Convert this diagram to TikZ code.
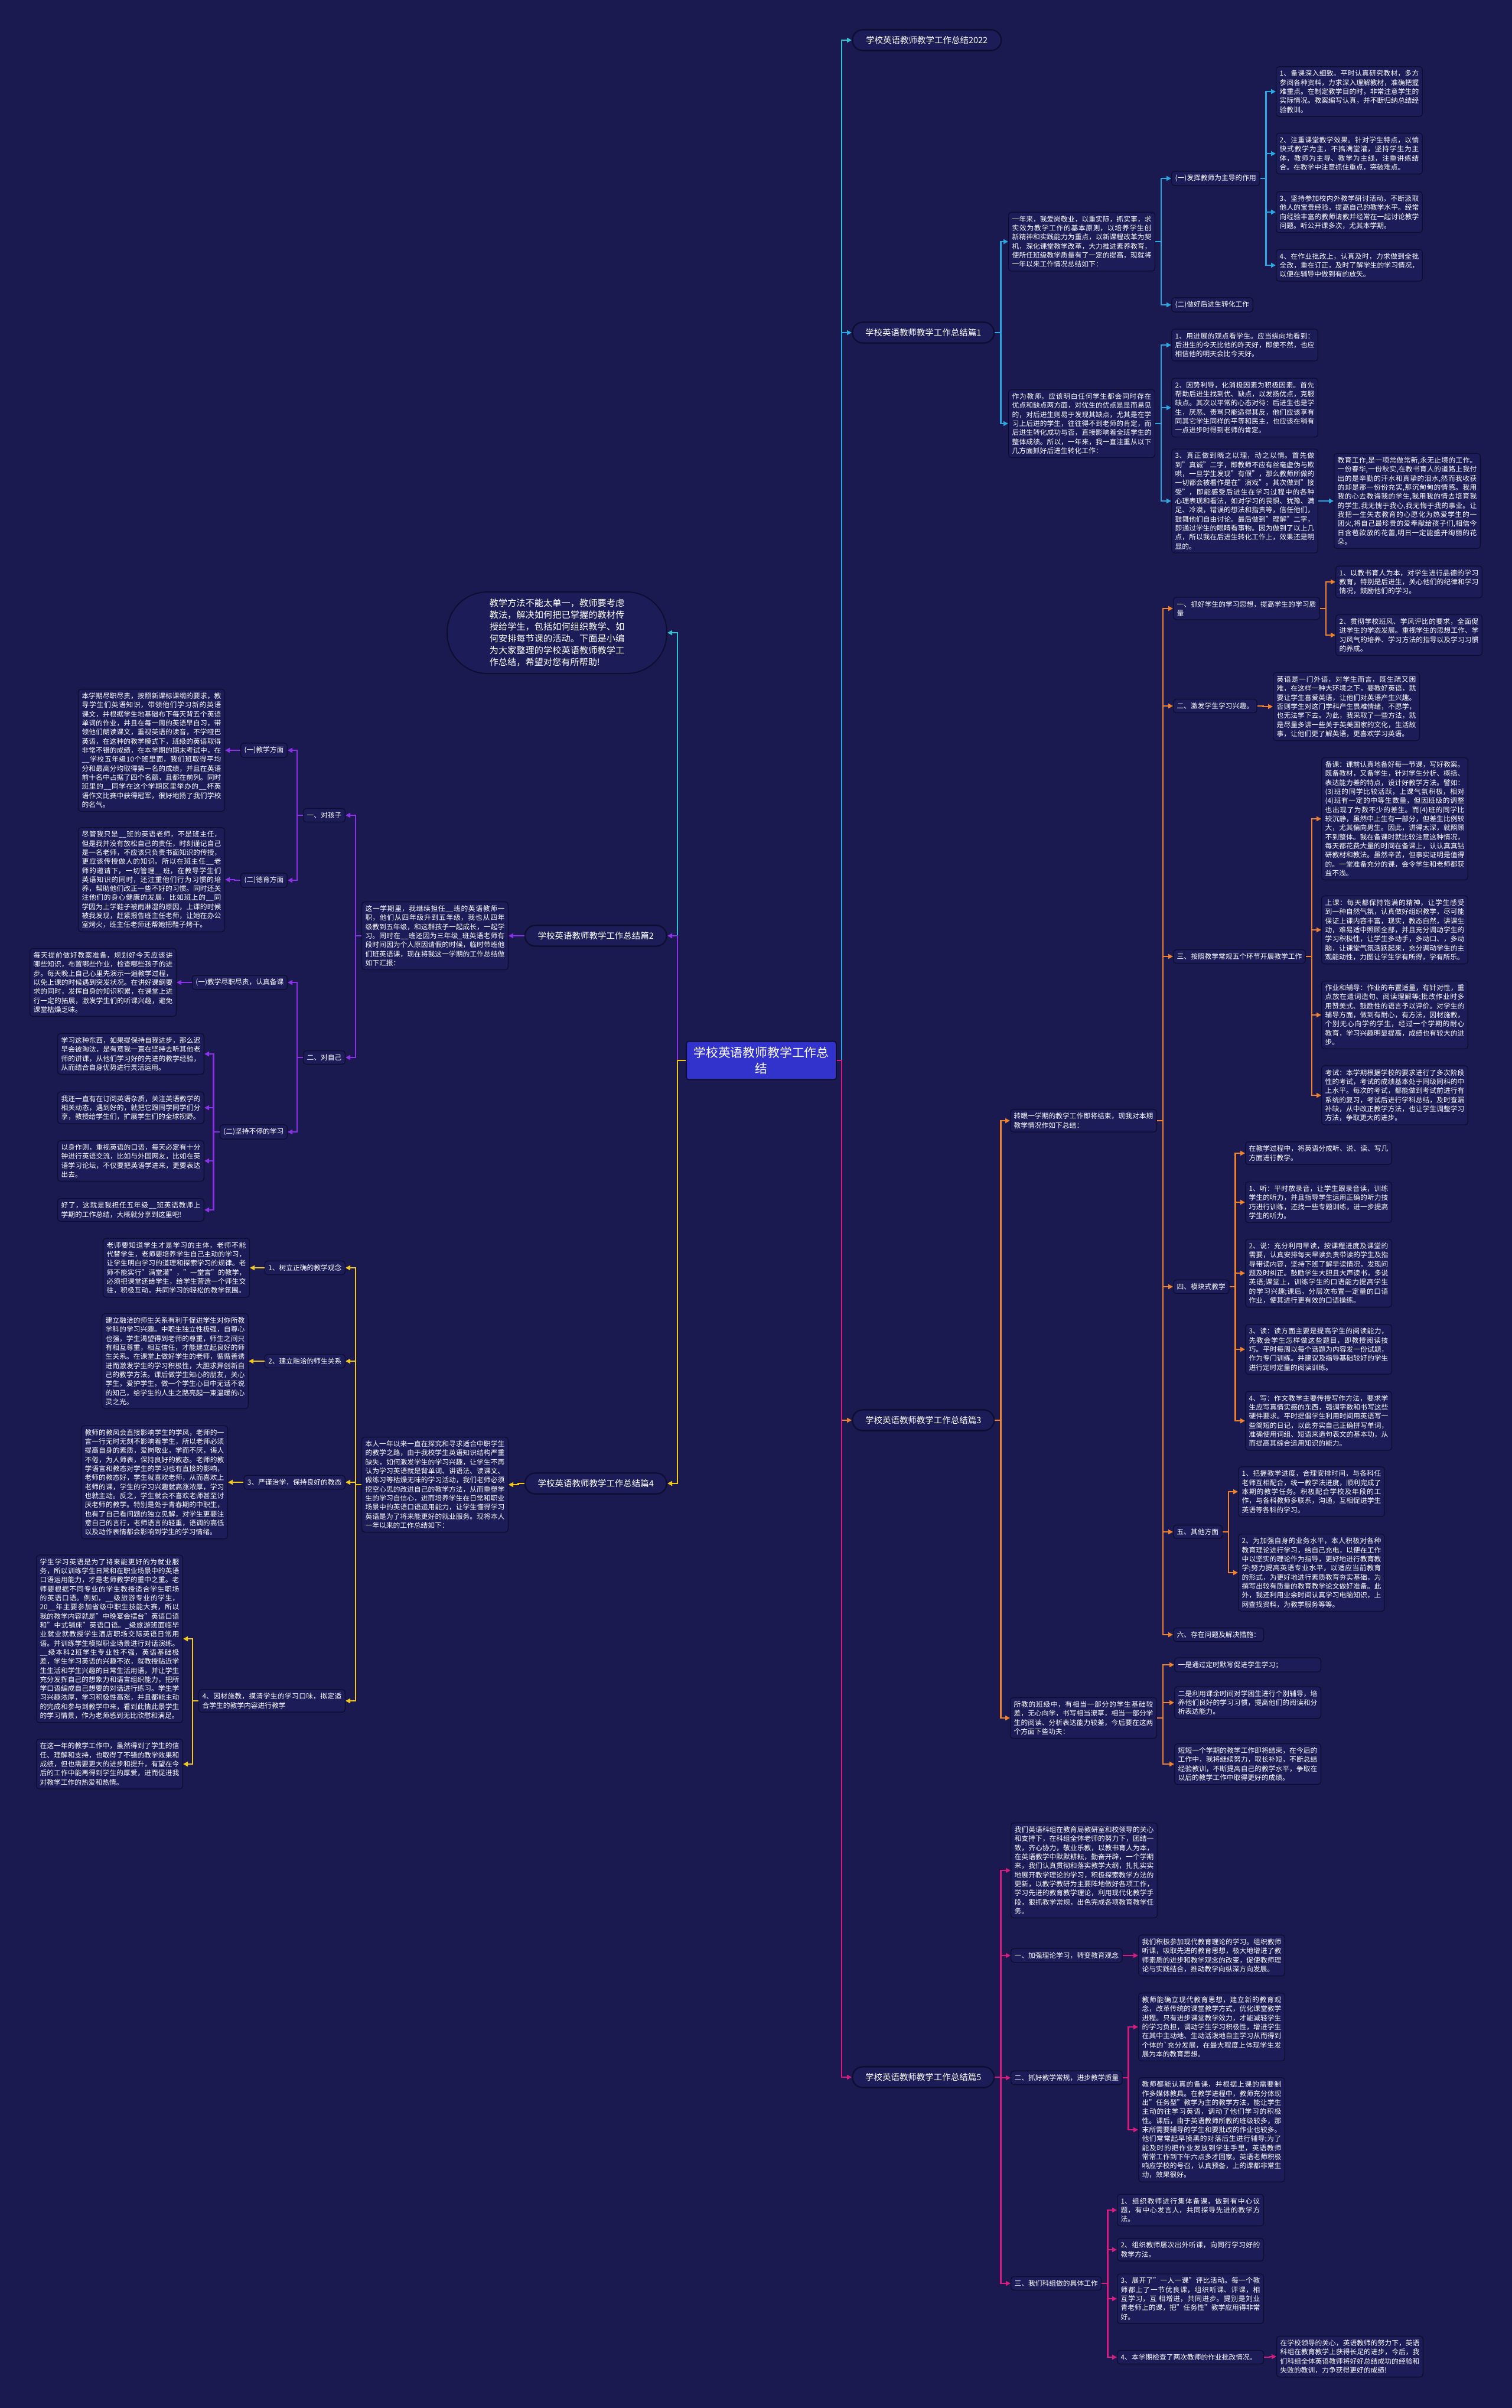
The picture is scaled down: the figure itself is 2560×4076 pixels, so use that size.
\documentclass[tikz,border=0pt]{standalone}
\usepackage{fontspec}
\setmainfont{Noto Sans CJK SC}
\usetikzlibrary{arrows.meta}
\XeTeXlinebreaklocale "zh"
\XeTeXlinebreakskip=0pt plus 1pt
\setlength{\parindent}{0pt}
\definecolor{bgnavy}{HTML}{1A1A50}
\definecolor{boxfill}{HTML}{1C1C58}
\definecolor{boxline}{HTML}{0E0E33}
\definecolor{rootblue}{HTML}{3232CC}
\definecolor{cteal}{HTML}{33C3D0}
\definecolor{csky}{HTML}{2AA7E1}
\definecolor{cpurple}{HTML}{8B32E6}
\definecolor{corange}{HTML}{F0822D}
\definecolor{cyellow}{HTML}{F2C81A}
\definecolor{cmagenta}{HTML}{D81B7E}
\newcommand{\leaffont}{\fontsize{8.36pt}{10.9pt}\selectfont}
\newcommand{\titlefont}{\fontsize{10.3pt}{13pt}\selectfont}
\newcommand{\rootfont}{\fontsize{14.8pt}{19pt}\selectfont}
\newcommand{\introfont}{\fontsize{10.8pt}{14.2pt}\selectfont}

\begin{document}
\begin{tikzpicture}[
    x=0.25mm, y=-0.25mm,
    >={Triangle[length=2mm,width=2mm]},
    box/.style   = {rectangle, rounded corners=1.2mm, draw=boxline, fill=boxfill,
                    line width=0.35mm, text=white, font=\leaffont,
                    inner xsep=1.5mm, inner ysep=1.5mm},
    leaf/.style  = {box, text width=167.6pt, align=justify},
    tag/.style   = {box},
    title/.style = {rectangle, rounded corners=4.4mm, draw=boxline, fill=boxfill,
                    line width=0.6mm, text=white, font=\titlefont,
                    minimum width=60mm, minimum height=8.8mm},
    topic/.style = {rectangle, rounded corners=1mm, draw=boxline, fill=rootblue,
                    line width=0.5mm, text=white, font=\rootfont, align=center,
                    minimum width=63.5mm, minimum height=16.2mm},
    intro/.style = {rectangle, rounded corners=17mm, draw=boxline, fill=boxfill,
                    line width=0.5mm, text=white, font=\introfont, align=justify,
                    text width=162.5pt, minimum width=93mm, minimum height=34.5mm},
    lnk/.style   = {->, line width=0.65mm},
  ]
  \useasboundingbox (0,0) rectangle (2560,4076);
  \fill[bgnavy] (0,0) rectangle (2560,4076);

  % centre
  \node[topic] (root) at (1289,1795) {学校英语教师教学工作总\\结};

  % ---- right side
  \node[title, anchor=west, minimum width=63mm] (t22) at (1442,68) {学校英语教师教学工作总结2022};

  % part 1
  \node[title, anchor=west] (t1) at (1442,563) {学校英语教师教学工作总结篇1};
  \node[leaf, anchor=west] (p1a) at (1707,409) {一年来，我爱岗敬业，以重实际，抓实事，求实效为教学工作的基本原则，以培养学生创新精神和实践能力为重点，以新课程改革为契机，深化课堂教学改革，大力推进素养教育，使所任班级教学质量有了一定的提高，现就将一年以来工作情况总结如下：};
  \node[tag, anchor=west] (p1a1) at (1983,302) {(一)发挥教师为主导的作用};
  \node[tag, anchor=west] (p1a2) at (1983,516) {(二)做好后进生转化工作};
  \node[leaf, anchor=west] (p1a1a) at (2160,155) {1、备课深入细致。平时认真研究教材，多方参阅各种资料，力求深入理解教材，准确把握难重点。在制定教学目的时，非常注意学生的实际情况。教案编写认真，并不断归纳总结经验教训。};
  \node[leaf, anchor=west] (p1a1b) at (2160,260) {2、注重课堂教学效果。针对学生特点，以愉快式教学为主，不搞满堂灌，坚持学生为主体，教师为主导、教学为主线，注重讲练结合。在教学中注意抓住重点，突破难点。};
  \node[leaf, anchor=west] (p1a1c) at (2160,359) {3、坚持参加校内外教学研讨活动，不断汲取他人的宝贵经验，提高自己的教学水平。经常向经验丰富的教师请教并经常在一起讨论教学问题。听公开课多次，尤其本学期。};
  \node[leaf, anchor=west] (p1a1d) at (2160,449) {4、在作业批改上，认真及时，力求做到全批全改，重在订正，及时了解学生的学习情况，以便在辅导中做到有的放矢。};
  \node[leaf, anchor=west] (p1b) at (1707,717) {作为教师，应该明白任何学生都会同时存在优点和缺点两方面，对优生的优点是显而易见的，对后进生则易于发现其缺点，尤其是在学习上后进的学生，往往得不到老师的肯定，而后进生转化成功与否，直接影响着全班学生的整体成绩。所以，一年来，我一直注重从以下几方面抓好后进生转化工作：};
  \node[leaf, anchor=west] (p1b1) at (1983,584) {1、用进展的观点看学生。应当纵向地看到：后进生的今天比他的昨天好，即使不然，也应相信他的明天会比今天好。};
  \node[leaf, anchor=west] (p1b2) at (1983,690) {2、因势利导，化消极因素为积极因素。首先帮助后进生找到优、缺点，以发扬优点，克服缺点。其次以平常的心态对待：后进生也是学生，厌恶、责骂只能适得其反，他们应该享有同其它学生同样的平等和民主，也应该在稍有一点进步时得到老师的肯定。};
  \node[leaf, anchor=west] (p1b3) at (1983,848) {3、真正做到晓之以理，动之以情。首先做到"真诚"二字，即教师不应有丝毫虚伪与欺哄，一旦学生发现"有假"，那么教师所做的一切都会被看作是在"演戏"。其次做到"接受"，即能感受后进生在学习过程中的各种心理表现和看法，如对学习的畏惧、犹豫、满足、冷漠，错误的想法和指责等，信任他们，鼓舞他们自由讨论。最后做到"理解"二字，即通过学生的眼睛看事物。因为做到了以上几点，所以我在后进生转化工作上，效果还是明显的。};
  \node[leaf, anchor=west] (p1b3x) at (2258,848) {教育工作,是一项常做常新,永无止境的工作。一份春华,一份秋实,在教书育人的道路上我付出的是辛勤的汗水和真挚的泪水,然而我收获的却是那一份份充实,那沉甸甸的情感。我用我的心去教诲我的学生,我用我的情去培育我的学生,我无愧于我心,我无悔于我的事业。让我把一生矢志教育的心愿化为热爱学生的一团火,将自己最珍贵的爱奉献给孩子们,相信今日含苞欲放的花蕾,明日一定能盛开绚丽的花朵。};

  % part 3
  \node[title, anchor=west] (t3) at (1442,2404) {学校英语教师教学工作总结篇3};
  \node[leaf, anchor=west] (p3a) at (1710,1897) {转眼一学期的教学工作即将结束，现我对本期教学情况作如下总结：};
  \node[leaf, anchor=west] (p3a1) at (1986,1030) {一、抓好学生的学习思想，提高学生的学习质量};
  \node[leaf, anchor=west] (p3a1a) at (2261,985) {1、以教书育人为本，对学生进行品德的学习教育，特别是后进生，关心他们的纪律和学习情况，鼓励他们的学习。};
  \node[leaf, anchor=west] (p3a1b) at (2261,1075) {2、贯彻学校班风、学风评比的要求，全面促进学生的学态发展。重视学生的思想工作、学习风气的培养、学习方法的指导以及学习习惯的养成。};
  \node[tag, anchor=west] (p3a2) at (1986,1195) {二、激发学生学习兴趣。};
  \node[leaf, anchor=west] (p3a2a) at (2155,1196) {英语是一门外语，对学生而言，既生疏又困难，在这样一种大环境之下，要教好英语，就要让学生喜爱英语，让他们对英语产生兴趣。否则学生对这门学科产生畏难情绪，不愿学，也无法学下去。为此，我采取了一些方法，就是尽量多讲一些关于英美国家的文化，生活故事，让他们更了解英语，更喜欢学习英语。};
  \node[tag, anchor=west] (p3a3) at (1986,1619) {三、按照教学常规五个环节开展教学工作};
  \node[leaf, anchor=west] (p3a3a) at (2237,1386) {备课：课前认真地备好每一节课，写好教案。既备教材，又备学生，针对学生分析、概括、表达能力差的特点，设计好教学方法。譬如：(3)班的同学比较活跃，上课气氛积极，相对(4)班有一定的中等生数量，但因班级的调整也出现了为数不少的差生。而(4)班的同学比较沉静，虽然中上生有一部分，但差生比例较大，尤其偏向男生。因此，讲得太深，就照顾不到整体。我在备课时就比较注意这种情况，每天都花费大量的时间在备课上，认认真真钻研教材和教法。虽然辛苦，但事实证明是值得的。一堂准备充分的课，会令学生和老师都获益不浅。};
  \node[leaf, anchor=west] (p3a3b) at (2237,1574) {上课：每天都保持饱满的精神，让学生感受到一种自然气氛，认真做好组织教学，尽可能保证上课内容丰富，现实，教态自然，讲课生动，难易适中照顾全部，并且充分调动学生的学习积极性，让学生多动手，多动口、，多动脑，让课堂气氛活跃起来，充分调动学生的主观能动性，力图让学生学有所得，学有所乐。};
  \node[leaf, anchor=west] (p3a3c) at (2237,1718) {作业和辅导：作业的布置适量，有针对性，重点放在遣词造句、阅读理解等;批改作业时多用赞美式、鼓励性的语言予以评价。对学生的辅导方面，做到有耐心，有方法，因材施教，个别无心向学的学生，经过一个学期的耐心教育，学习兴趣明显提高，成绩也有较大的进步。};
  \node[leaf, anchor=west] (p3a3d) at (2237,1854) {考试：本学期根据学校的要求进行了多次阶段性的考试，考试的成绩基本处于同级同科的中上水平。每次的考试，都能做到考试前进行有系统的复习，考试后进行学科总结，及时查漏补缺，从中改正教学方法，也让学生调整学习方法，争取更大的进步。};
  \node[tag, anchor=west] (p3a4) at (1986,2178) {四、模块式教学};
  \node[leaf, anchor=west] (p3a4a) at (2108,1952) {在教学过程中，将英语分成听、说、读、写几方面进行教学。};
  \node[leaf, anchor=west] (p3a4b) at (2108,2035) {1、听：平时放录音，让学生跟录音读，训练学生的听力，并且指导学生运用正确的听力技巧进行训练，还找一些专题训练，进一步提高学生的听力。};
  \node[leaf, anchor=west] (p3a4c) at (2108,2155) {2、说：充分利用早读，按课程进度及课堂的需要，认真安排每天早读负责带读的学生及指导带读内容，坚持下班了解早读情况，发现问题及时纠正。鼓励学生大胆且大声读书，多说英语;课堂上，训练学生的口语能力提高学生的学习兴趣;课后，分层次布置一定量的口语作业，使其进行更有效的口语操练。};
  \node[leaf, anchor=west] (p3a4d) at (2108,2284) {3、读：读方面主要是提高学生的阅读能力，先教会学生怎样做这些题目，即教授阅读技巧。平时每周以每个话题为内容发一份试题，作为专门训练。并建议及指导基础较好的学生进行定时定量的阅读训练。};
  \node[leaf, anchor=west] (p3a4e) at (2108,2405) {4、写：作文教学主要传授写作方法，要求学生应写真情实感的东西，强调字数和书写这些硬件要求。平时提倡学生利用时间用英语写一些简短的日记，以此夯实自己正确拼写单词，准确使用词组、短语来造句表文的基本功，从而提高其综合运用知识的能力。};
  \node[tag, anchor=west] (p3a5) at (1986,2593) {五、其他方面};
  \node[leaf, anchor=west] (p3a5a) at (2096,2525) {1、把握教学进度，合理安排时间，与各科任老师互相配合，统一教学法进度，顺利完成了本期的教学任务。积极配合学校及年段的工作，与各科教师多联系，沟通，互相促进学生英语等各科的学习。};
  \node[leaf, anchor=west] (p3a5b) at (2096,2662) {2、为加强自身的业务水平，本人积极对各种教育理论进行学习，给自己充电，以便在工作中以坚实的理论作为指导，更好地进行教育教学;努力提高英语专业水平，以适应当前教育的形式，为更好地进行素质教育夯实基础，为撰写出较有质量的教育教学论文做好准备。此外，我还利用业余时间认真学习电脑知识，上网查找资料，为教学服务等等。};
  \node[tag, anchor=west] (p3a6) at (1986,2767) {六、存在问题及解决措施：};
  \node[leaf, anchor=west] (p3b) at (1710,2908) {所教的班级中，有相当一部分的学生基础较差，无心向学，书写相当潦草，相当一部分学生的阅读、分析表达能力较差，今后要在这两个方面下些功夫：};
  \node[leaf, anchor=west] (p3b1) at (1988,2818) {一是通过定时默写促进学生学习；};
  \node[leaf, anchor=west] (p3b2) at (1988,2882) {二是利用课余时间对学困生进行个别辅导，培养他们良好的学习习惯，提高他们的阅读和分析表达能力。};
  \node[leaf, anchor=west] (p3b3) at (1988,2986) {短短一个学期的教学工作即将结束，在今后的工作中，我将继续努力，取长补短，不断总结经验教训，不断提高自己的教学水平，争取在以后的教学工作中取得更好的成绩。};

  % part 5
  \node[title, anchor=west] (t5) at (1442,3516) {学校英语教师教学工作总结篇5};
  \node[leaf, anchor=west] (p5a) at (1711,3166) {我们英语科组在教育局教研室和校领导的关心和支持下，在科组全体老师的努力下，团结一致，齐心协力，敬业乐教，以教书育人为本，在英语教学中默默耕耘，勤奋开辟，一个学期来，我们认真贯彻和落实教学大纲，扎扎实实地展开教学理论的学习，积极探索教学方法的更新，以教学教研为主要阵地做好各项工作，学习先进的教育教学理论，利用现代化教学手段，狠抓教学常规，出色完成各项教育教学任务。};
  \node[tag, anchor=west] (p5b) at (1711,3310) {一、加强理论学习，转变教育观念};
  \node[leaf, anchor=west] (p5b1) at (1927,3310) {我们积极参加现代教育理论的学习。组织教师听课，吸取先进的教育思想，极大地增进了教师素质的进步和教学观念的改变，促使教师理论与实践结合，推动教学向纵深方向发展。};
  \node[tag, anchor=west] (p5c) at (1711,3517) {二、抓好教学常规，进步教学质量};
  \node[leaf, anchor=west] (p5c1) at (1927,3431) {教师能确立现代教育思想，建立新的教育观念，改革传统的课堂教学方式，优化课堂教学进程。只有进步课堂教学效力，才能减轻学生的学习负担，调动学生学习积极性，增进学生在其中主动地、生动活泼地自主学习从而得到个体的\textasciigrave 充分发展，在最大程度上体现学生发展为本的教育思想。};
  \node[leaf, anchor=west] (p5c2) at (1927,3605) {教师都能认真的备课，并根据上课的需要制作多媒体教具。在教学进程中，教师充分体现出"任务型"教学为主的教学方法，能让学生主动的往学习英语，调动了他们学习的积极性。课后，由于英语教师所教的班级较多，那末所需要辅导的学生和要批改的作业也较多。他们常常起早摸黑的对落后生进行辅导;为了能及时的把作业发放到学生手里，英语教师常常工作到下午六点多才回家。英语老师积极响应学校的号召，认真预备，上的课都非常生动，效果很好。};
  \node[tag, anchor=west] (p5d) at (1711,3865) {三、我们科组做的具体工作};
  \node[leaf, anchor=west] (p5d1) at (1891,3741) {1、组织教师进行集体备课，做到有中心议题，有中心发言人，共同探导先进的教学方法。};
  \node[leaf, anchor=west] (p5d2) at (1891,3808) {2、组织教师屡次出外听课，向同行学习好的教学方法。};
  \node[leaf, anchor=west] (p5d3) at (1891,3891) {3、展开了"一人一课"评比活动。每一个教师都上了一节优良课，组织听课、评课，相互学习，互 相增进，共同进步。提别是刘业青老师上的课，把"任务性"教学应用得非常好。};
  \node[leaf, anchor=west] (p5d4) at (1891,3990) {4、本学期检查了两次教师的作业批改情况。};
  \node[leaf, anchor=west] (p5d4a) at (2161,3989) {在学校领导的关心，英语教师的努力下，英语科组在教育教学上获得长足的进步，今后，我们科组全体英语教师将好好总结成功的经验和失败的教训，力争获得更好的成绩!};

  % ---- left side
  \node[intro] (lead) at (943,1071) {教学方法不能太单一，教师要考虑教法，解决如何把已掌握的教材传授给学生，包括如何组织教学、如何安排每节课的活动。下面是小编为大家整理的学校英语教师教学工作总结，希望对您有所帮助!};

  % part 2
  \node[title, anchor=east] (t2) at (1130,1584) {学校英语教师教学工作总结篇2};
  \node[leaf, anchor=east] (p2a) at (861,1584) {这一学期里，我继续担任\_\_班的英语教师一职，他们从四年级升到五年级，我也从四年级教到五年级，和这群孩子一起成长，一起学习。同时在\_\_班还因为三年级\_班英语老师有段时间因为个人原因请假的时候，临时带班他们班英语课，现在将我这一学期的工作总结做如下汇报：};
  \node[tag, anchor=east] (p2a1) at (585,1380) {一、对孩子};
  \node[tag, anchor=east] (p2a1a) at (487,1270) {(一)教学方面};
  \node[leaf, anchor=east] (p2a1ax) at (381,1270) {本学期尽职尽责，按照新课标课纲的要求，教导学生们英语知识，带领他们学习新的英语课文，并根据学生地基础布下每天背五个英语单词的作业，并且在每一周的英语早自习，带领他们朗读课文，重视英语的读音，不学哑巴英语，在这种的教学模式下，班级的英语取得非常不错的成绩，在本学期的期末考试中，在\_\_学校五年级10个班里面，我们班取得平均分和最高分均取得第一名的成绩，并且在英语前十名中占据了四个名额，且都在前列。同时班里的\_\_同学在这个学期区里举办的\_\_杯英语作文比赛中获得冠军，很好地扬了我们学校的名气。};
  \node[tag, anchor=east] (p2a1b) at (487,1490) {(二)德育方面};
  \node[leaf, anchor=east] (p2a1bx) at (381,1489) {尽管我只是\_\_班的英语老师，不是班主任，但是我并没有放松自己的责任，时刻谨记自己是一名老师，不应该只负责书面知识的传授，更应该传授做人的知识。所以在班主任\_\_老师的邀请下，一切管理\_\_班，在教导学生们英语知识的同时，还注重他们行为习惯的培养，帮助他们改正一些不好的习惯。同时还关注他们的身心健康的发展，比如班上的\_\_同学因为上学鞋子被雨淋湿的原因，上课的时候被我发现，赶紧报告班主任老师，让她在办公室烤火，班主任老师还帮她把鞋子烤干。};
  \node[tag, anchor=east] (p2a2) at (585,1790) {二、对自己};
  \node[tag, anchor=east] (p2a2a) at (487,1663) {(一)教学尽职尽责，认真备课};
  \node[leaf, anchor=east] (p2a2ax) at (299,1663) {每天提前做好教案准备，规划好今天应该讲哪些知识，布置哪些作业，检查哪些孩子的进步。每天晚上自己心里先演示一遍教学过程，以免上课的时候遇到突发状况。在讲好课纲要求的同时，发挥自身的知识积累，在课堂上进行一定的拓展，激发学生们的听课兴趣，避免课堂枯燥乏味。};
  \node[tag, anchor=east] (p2a2b) at (487,1916) {(二)坚持不停的学习};
  \node[leaf, anchor=east] (p2a2b1) at (346,1784) {学习这种东西，如果提保持自我进步，那么迟早会被淘汰，是有意我一直在坚持去听其他老师的讲课，从他们学习好的先进的教学经验，从而结合自身优势进行灵活运用。};
  \node[leaf, anchor=east] (p2a2b2) at (346,1875) {我还一直有在订阅英语杂质，关注英语教学的相关动态，遇到好的，就把它跟同学同学们分享，教授给学生们，扩展学生们的全球视野。};
  \node[leaf, anchor=east] (p2a2b3) at (346,1965) {以身作则，重视英语的口语，每天必定有十分钟进行英语交流，比如与外国网友，比如在英语学习论坛，不仅要把英语学进来，更要表达出去。};
  \node[leaf, anchor=east] (p2a2b4) at (346,2048) {好了，这就是我担任五年级\_\_班英语教师上学期的工作总结，大概就分享到这里吧!};

  % part 4
  \node[title, anchor=east] (t4) at (1130,2511) {学校英语教师教学工作总结篇4};
  \node[leaf, anchor=east] (p4a) at (861,2513) {本人一年以来一直在探究和寻求适合中职学生的教学之路，由于我校学生英语知识结构严重缺失，如何激发学生的学习兴趣，让学生不再认为学习英语就是背单词、讲语法、读课文、做练习等枯燥无味的学习活动，我们老师必须挖空心思的改进自己的教学方法，从而重塑学生的学习自信心，进而培养学生在日常和职业场景中的英语口语运用能力，让学生懂得学习英语是为了将来能更好的就业服务。现将本人一年以来的工作总结如下：};
  \node[tag, anchor=east] (p4a1) at (585,2146) {1、树立正确的教学观念};
  \node[leaf, anchor=east] (p4a1x) at (423,2146) {老师要知道学生才是学习的主体，老师不能代替学生，老师要培养学生自己主动的学习，让学生明白学习的道理和探索学习的规律。老师不能实行"满堂灌"，"一堂言"的教学，必须把课堂还给学生，给学生营造一个师生交往，积极互动，共同学习的轻松的教学氛围。};
  \node[tag, anchor=east] (p4a2) at (585,2304) {2、建立融洽的师生关系};
  \node[leaf, anchor=east] (p4a2x) at (421,2304) {建立融洽的师生关系有利于促进学生对你所教学科的学习兴趣。中职生独立性极强，自尊心也强，学生渴望得到老师的尊重，师生之间只有相互尊重，相互信任，才能建立起良好的师生关系。在课堂上做好学生的老师，循循善诱进而激发学生的学习积极性，大胆求异创新自己的教学方法。课后做学生知心的朋友，关心学生，爱护学生，做一个学生心目中无话不说的知己，给学生的人生之路亮起一束温暖的心灵之光。};
  \node[tag, anchor=east] (p4a3) at (585,2509) {3、严谨治学，保持良好的教态};
  \node[leaf, anchor=east] (p4a3x) at (386,2509) {教师的教风会直接影响学生的学风，老师的一言一行无时无刻不影响着学生，所以老师必须提高自身的素质，爱岗敬业，学而不厌，诲人不倦，为人师表，保持良好的教态。老师的教学语言和教态对学生的学习也有直接的影响，老师的教态好，学生就喜欢老师，从而喜欢上老师的课，学生的学习兴趣就高涨浓厚，学习也就主动。反之，学生就会不喜欢老师甚至讨厌老师的教学。特别是处于青春期的中职生，也有了自己看问题的独立见解，对学生更要注意自己的言行，老师语言的轻重，语调的高低以及动作表情都会影响到学生的学习情绪。};
  \node[leaf, anchor=east] (p4a4) at (585,2879) {4、因材施教，摸清学生的学习口味，拟定适合学生的教学内容进行教学};
  \node[leaf, anchor=east] (p4a4a) at (310,2774) {学生学习英语是为了将来能更好的为就业服务，所以训练学生日常和在职业场景中的英语口语运用能力，才是老师教学的重中之重。老师要根据不同专业的学生教授适合学生职场的英语口语。例如，\_\_级旅游专业的学生，20\_\_年主要参加省级中职生技能大赛，所以我的教学内容就是"中晚宴会摆台"英语口语和"中式铺床"英语口语。\_级旅游班面临毕业就业就教授学生酒店职场交际英语日常用语。并训练学生模拟职业场景进行对话演练。\_\_级本科2班学生专业性不强，英语基础极差，学生学习英语的兴趣不浓，就教授贴近学生生活和学生兴趣的日常生活用语，并让学生充分发挥自己的想象力和语言组织能力，把所学口语编成自己想要的对话进行练习。学生学习兴趣浓厚，学习积极性高涨，并且都能主动的完成和参与到教学中来，看到此情此景学生的学习情景，作为老师感到无比欣慰和满足。};
  \node[leaf, anchor=east] (p4a4b) at (310,2986) {在这一年的教学工作中，虽然得到了学生的信任、理解和支持，也取得了不错的教学效果和成绩，但也需要更大的进步和提升，有望在今后的工作中能再得到学生的厚爱，进而促进我对教学工作的热爱和热情。};

  % ---- connectors, right side
  \draw[lnk, cteal] (root.east) -- ++(8,0) |- (t22.west);
  \draw[lnk, csky]  (root.east) -- ++(8,0) |- (t1.west);
  \draw[lnk, corange]  (root.east) -- ++(8,0) |- (t3.west);
  \draw[lnk, cmagenta] (root.east) -- ++(8,0) |- (t5.west);
  \foreach \a/\b in {t1/p1a, t1/p1b, p1a/p1a1, p1a/p1a2,
                     p1a1/p1a1a, p1a1/p1a1b, p1a1/p1a1c, p1a1/p1a1d,
                     p1b/p1b1, p1b/p1b2, p1b/p1b3, p1b3/p1b3x}
    \draw[lnk, csky] (\a.east) -- ++(10,0) |- (\b.west);
  \foreach \a/\b in {t3/p3a, t3/p3b, p3a/p3a1, p3a/p3a2, p3a/p3a3, p3a/p3a4,
                     p3a/p3a5, p3a/p3a6, p3a1/p3a1a, p3a1/p3a1b, p3a2/p3a2a,
                     p3a3/p3a3a, p3a3/p3a3b, p3a3/p3a3c, p3a3/p3a3d,
                     p3a4/p3a4a, p3a4/p3a4b, p3a4/p3a4c, p3a4/p3a4d, p3a4/p3a4e,
                     p3a5/p3a5a, p3a5/p3a5b, p3b/p3b1, p3b/p3b2, p3b/p3b3}
    \draw[lnk, corange] (\a.east) -- ++(10,0) |- (\b.west);
  \foreach \a/\b in {t5/p5a, t5/p5b, t5/p5c, t5/p5d, p5b/p5b1, p5c/p5c1, p5c/p5c2,
                     p5d/p5d1, p5d/p5d2, p5d/p5d3, p5d/p5d4, p5d4/p5d4a}
    \draw[lnk, cmagenta] (\a.east) -- ++(10,0) |- (\b.west);

  % ---- connectors, left side
  \draw[lnk, cteal]   (root.west) -- ++(-14,0) |- (lead.east);
  \draw[lnk, cpurple] (root.west) -- ++(-14,0) |- (t2.east);
  \draw[lnk, cyellow] (root.west) -- ++(-14,0) |- (t4.east);
  \foreach \a/\b in {t2/p2a, p2a/p2a1, p2a/p2a2, p2a1/p2a1a, p2a1/p2a1b,
                     p2a1a/p2a1ax, p2a1b/p2a1bx, p2a2/p2a2a, p2a2/p2a2b,
                     p2a2a/p2a2ax, p2a2b/p2a2b1, p2a2b/p2a2b2, p2a2b/p2a2b3, p2a2b/p2a2b4}
    \draw[lnk, cpurple] (\a.west) -- ++(-10,0) |- (\b.east);
  \foreach \a/\b in {t4/p4a, p4a/p4a1, p4a/p4a2, p4a/p4a3, p4a/p4a4,
                     p4a1/p4a1x, p4a2/p4a2x, p4a3/p4a3x, p4a4/p4a4a, p4a4/p4a4b}
    \draw[lnk, cyellow] (\a.west) -- ++(-10,0) |- (\b.east);
\end{tikzpicture}
\end{document}
